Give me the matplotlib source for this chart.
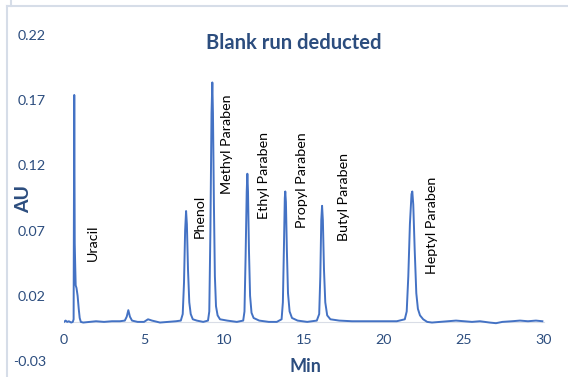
import matplotlib.pyplot as plt
from matplotlib.lines import Line2D

plt.rcParams['font.family'] = ['Lato', 'DejaVu Sans']

# chromatogram (min, AU)
time_min = [0.0, 0.1, 0.2, 0.3, 0.45, 0.55, 0.60, 0.64, 0.67, 0.70, 0.73, 0.78, 0.85, 0.92, 0.98, 1.05,
            1.2, 1.6, 2.0, 2.5, 3.0, 3.5, 3.8, 3.92, 4.02, 4.12, 4.25, 4.6, 5.0, 5.25, 5.5,
            6.0, 6.5, 7.0, 7.3, 7.42, 7.5, 7.57, 7.63, 7.68, 7.75, 7.83, 7.92, 8.05, 8.3, 8.7,
            9.0, 9.08, 9.15, 9.22, 9.27, 9.31, 9.37, 9.43, 9.5, 9.6, 9.75, 10.2, 10.8,
            11.2, 11.28, 11.35, 11.42, 11.46, 11.5, 11.56, 11.63, 11.72, 11.85, 12.2, 12.8,
            13.3, 13.6, 13.68, 13.75, 13.8, 13.83, 13.87, 13.93, 14.0, 14.1, 14.25, 14.6, 15.2,
            15.8, 15.95, 16.02, 16.08, 16.13, 16.18, 16.25, 16.33, 16.45, 16.65, 17.2,
            18.0, 19.0, 20.0, 20.8, 21.3, 21.42, 21.52, 21.62, 21.72, 21.77, 21.83, 21.92,
            22.02, 22.12, 22.25, 22.45, 22.7, 23.0, 23.5, 24.0, 24.5, 25.0, 25.5, 26.0,
            26.6, 27.0, 27.4, 28.0, 28.5, 29.0, 29.5, 29.9]
absorbance = [0.0, 0.001, 0.0, 0.0005, -0.0005, 0.0, 0.002, 0.174, 0.060, 0.043, 0.028, 0.026, 0.020, 0.010, 0.003, 0.0,
              -0.0005, 0.0, 0.0005, 0.0, 0.0005, 0.0005, 0.001, 0.004, 0.009, 0.004, 0.001, 0.0, 0.0, 0.002, 0.001,
              -0.0005, 0.0, 0.0005, 0.001, 0.006, 0.030, 0.070, 0.085, 0.075, 0.040, 0.015, 0.006, 0.002, 0.001, 0.0,
              0.001, 0.008, 0.070, 0.160, 0.1836, 0.160, 0.090, 0.035, 0.012, 0.005, 0.002, 0.001, 0.0,
              0.001, 0.008, 0.050, 0.100, 0.1136, 0.100, 0.055, 0.020, 0.007, 0.003, 0.001, 0.0,
              0.0, 0.002, 0.015, 0.060, 0.095, 0.100, 0.092, 0.055, 0.022, 0.008, 0.003, 0.001, 0.0,
              0.001, 0.006, 0.035, 0.078, 0.089, 0.078, 0.040, 0.015, 0.005, 0.002, 0.001,
              0.0005, 0.0005, 0.0005, 0.0005, 0.002, 0.008, 0.035, 0.075, 0.098, 0.100, 0.090, 0.055,
              0.022, 0.010, 0.005, 0.002, 0.0, -0.0005, 0.0, 0.0005, 0.001, 0.0005, 0.0, 0.0005,
              -0.0005, -0.001, 0.0, 0.0005, 0.001, 0.0005, 0.001, 0.0005]

# peak labels (name, x, bottom of text)
peak_names = ['Uracil', 'Phenol', 'Methyl Paraben', 'Ethyl Paraben', 'Propyl Paraben',
              'Butyl Paraben', 'Heptyl Paraben']
label_x = [1.8, 8.5, 10.17, 12.52, 14.85, 17.52, 22.98]
label_y = [0.047, 0.064, 0.098, 0.079, 0.072, 0.062, 0.037]

y_ticks = [-0.03, 0.02, 0.07, 0.12, 0.17, 0.22]
x_ticks = [0, 5, 10, 15, 20, 25, 30]

txt = '#2c4d7e'
fig = plt.figure(figsize=(5.68, 3.77), dpi=100)
ax = fig.add_axes([0.1127, 0.0424, 0.845, 0.8648])
ax.plot(time_min, absorbance, color='#4472c4', lw=1.4)

for name, x, y in zip(peak_names, label_x, label_y):
    ax.text(x, y, name, rotation=90, ha='center', va='bottom', fontsize=10.3, color='black')

ax.set_xlim(0, 30)
ax.set_ylim(-0.03, 0.22)
ax.set_xticks(x_ticks)
ax.set_yticks(y_ticks)
ax.set_yticklabels([f'{v:.2f}' for v in y_ticks])
ax.tick_params(length=0, labelsize=10.3, colors=txt)
ax.tick_params(axis='y', pad=13)
ax.tick_params(axis='x', pad=9)
for s in ['top', 'right', 'left']:
    ax.spines[s].set_visible(False)
ax.spines['bottom'].set_position(('data', 0))
ax.spines['bottom'].set_color('#d9dde6')
ax.spines['bottom'].set_zorder(0)

fig.text(0.518, 0.885, 'Blank run deducted', ha='center', va='center',
         fontsize=14.5, fontweight='bold', color=txt)
fig.text(0.042, 0.473, 'AU', ha='center', va='center', rotation=90,
         fontsize=14, fontweight='bold', color=txt)
fig.text(0.537, 0.028, 'Min', ha='center', va='center',
         fontsize=13, fontweight='bold', color=txt)

# chart frame edges
frame = '#d6dde8'
fig.add_artist(Line2D([7 / 568, 1], [1 - 6 / 377, 1 - 6 / 377], color=frame, lw=1.5))
fig.add_artist(Line2D([7 / 568, 7 / 568], [0, 1 - 6 / 377], color=frame, lw=1.5))
fig.add_artist(Line2D([11 / 568, 11 / 568], [1 - 6 / 377, 1], color=frame, lw=1.5))

fig.savefig('out.png', dpi=100)
